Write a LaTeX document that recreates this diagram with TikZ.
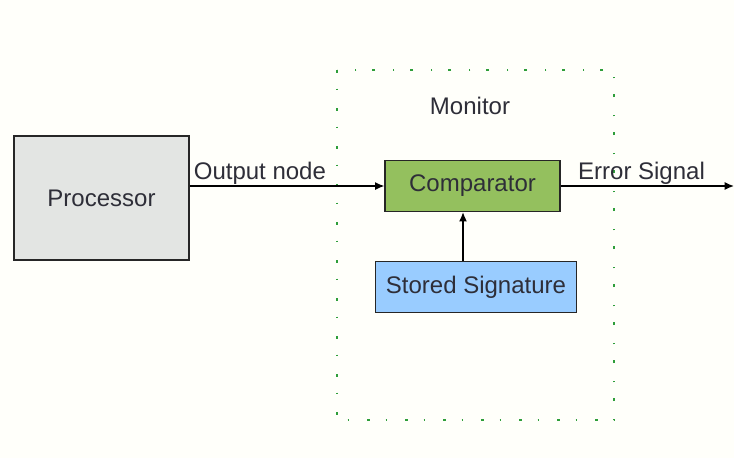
\documentclass[tikz,border=0pt]{standalone}
\usepackage{fontspec}
\setmainfont{Liberation Sans}
\usetikzlibrary{arrows.meta,positioning}
\definecolor{procgray}{HTML}{E3E5E3}
\definecolor{cmpgreen}{HTML}{94C05E}
\definecolor{sigblue}{HTML}{99CCFF}
\definecolor{dotgreen}{HTML}{2E9E3A}
\definecolor{inkgray}{HTML}{2E2E38}
\tikzset{font=\fontsize{18}{20}\selectfont}
\tikzset{every node/.append style={text=inkgray}}
\tikzset{block/.style={draw=black!85, line width=1.1pt, inner sep=0pt}}
\tikzset{conn/.style={line width=1.1pt, -{Latex[length=7pt,width=6pt]}}}

\begin{document}
\begin{tikzpicture}[x=0.75pt, y=-0.75pt]
\fill[white!98!yellow] (0,0) rectangle (734,458);
\useasboundingbox (0,0) rectangle (734,458);
% monitor area
\draw[dotgreen, line width=1.4pt, dash pattern=on 2pt off 12pt on 0.8pt off 13.7pt]
 (337,70) rectangle (614,420);
\node (mon) at (470,106) {Monitor};
\node[block, fill=procgray, minimum width=131pt, minimum height=93pt] (proc) at (101.5,198) {Processor};
\node[block, fill=cmpgreen, minimum width=131pt, minimum height=38pt] (cmp) at (472.5,186) {Comparator};
\node[block, fill=sigblue, minimum width=151pt, minimum height=38pt] (sig) at (476,287) {Stored Signature};
\coordinate (out) at (734,184);
\coordinate (sigtop) at ([xshift=-9.75pt]sig.north);
\draw[conn] (proc.east |- cmp.west) -- (cmp.west);
\draw[conn] (cmp.east) -- (out |- cmp.east);
\draw[conn] (sigtop) -- (sigtop |- cmp.south);
\node[anchor=south west, inner sep=1pt] (outlbl) at ([xshift=2pt]proc.east |- cmp.west) {Output node};
\node[anchor=south west, inner sep=1pt] (errlbl) at ([xshift=12pt]cmp.east) {Error Signal};
\end{tikzpicture}
\end{document}
